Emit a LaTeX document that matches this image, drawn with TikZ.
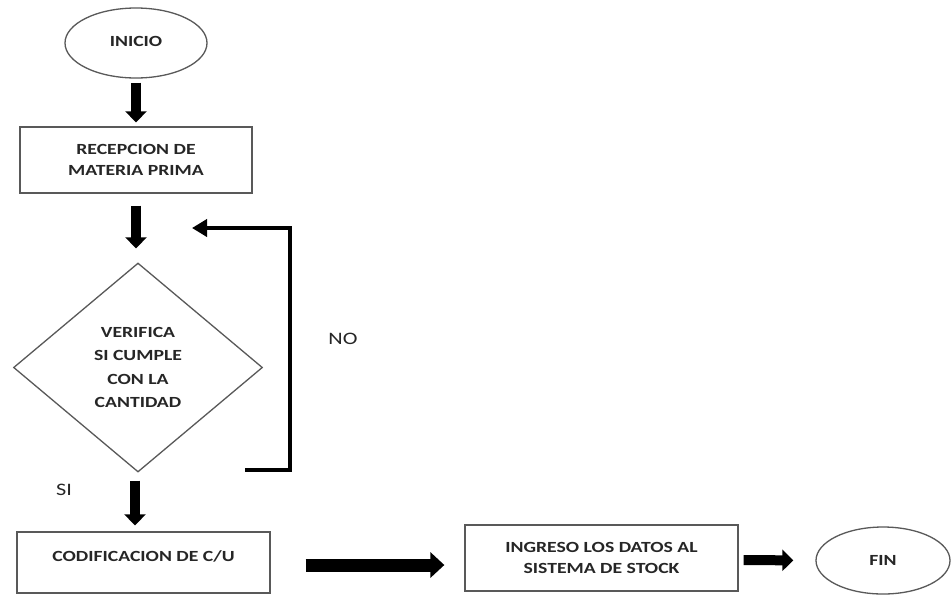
\documentclass[tikz,border=0pt]{standalone}
\usepackage{fontspec}
\setmainfont{Carlito}[FakeStretch=1.27]
\usetikzlibrary{shapes.geometric,arrows.meta}
\tikzset{
  shapeline/.style={draw=black!65, line width=1.3pt},
  procbox/.style={shapeline, rectangle, inner sep=0pt, align=center, font=\bfseries\fontsize{15.5}{20.5}\selectfont, text=black!85},
  termin/.style={shapeline, ellipse, inner sep=0pt, font=\bfseries\fontsize{15.5}{20}\selectfont, text=black!85},
  decis/.style={shapeline, diamond, inner sep=0pt, align=center, font=\bfseries\fontsize{15.5}{23.3}\selectfont, text=black!85},
  blockarrow/.style={draw=black, line width=10pt, -{Triangle[width=21pt,length=11pt]}},
  branchlbl/.style={font=\fontsize{17.5}{20}\selectfont, text=black!85}
}
\begin{document}
\begin{tikzpicture}[x=1pt,y=-1pt]
\useasboundingbox[fill=white] (0,0) rectangle (952,595);
\node[termin, minimum width=142pt, minimum height=70pt] (inicio) at (136,43) {\raisebox{3pt}{INICIO}};
\node[procbox, minimum width=232pt, minimum height=66pt] (recep) at (136,160) {RECEPCION DE\\MATERIA PRIMA};
\node[decis, minimum width=249pt, minimum height=209pt] (verif) at (138,367.5) {VERIFICA\\SI CUMPLE\\CON LA\\CANTIDAD};
\node[procbox, minimum width=253pt, minimum height=61pt] (codif) at (143.5,562.5) {};
\node[font=\bfseries\fontsize{15.5}{20}\selectfont, text=black!85] (codiftxt) at (143.5,556) {CODIFICACION DE C/U};
\node[procbox, minimum width=273pt, minimum height=66pt] (ingreso) at (601.5,558) {INGRESO LOS DATOS AL\\SISTEMA DE STOCK};
\node[termin, minimum width=134pt, minimum height=67pt] (fin) at (883,560.5) {FIN};
\node[branchlbl] (nolbl) at (343,339) {NO};
\node[branchlbl] (silbl) at (64,490) {SI};
% block arrows
\draw[blockarrow, shorten <=4pt, shorten >=4pt] (inicio.south) -- (recep.north);
\draw[blockarrow, shorten <=12pt, shorten >=14pt] (recep.south) -- (recep.south |- verif.north);
\draw[blockarrow, shorten <=8pt, shorten >=6pt] (verif.south -| 135,0) -- (codif.north -| 135,0);
\draw[blockarrow, line width=13pt, -{Triangle[width=25pt,length=14pt]}, shorten <=35pt, shorten >=20pt] (codif.east |- 0,565) -- (ingreso.west |- 0,565);
\draw[blockarrow, shorten <=5pt, shorten >=22pt] (ingreso.east |- 0,560) -- (fin.west);
% NO feedback loop
\coordinate (fbstart) at (245,470);
\coordinate (fbbot) at (290,470);
\coordinate (fbtop) at (290,228);
\coordinate (fbend) at (192,228);
\draw[draw=black, line width=4.5pt, line join=miter, -{Triangle[width=17pt,length=15pt]}] (fbstart) -- (fbbot) -- (fbtop) -- (fbend);
\end{tikzpicture}
\end{document}
